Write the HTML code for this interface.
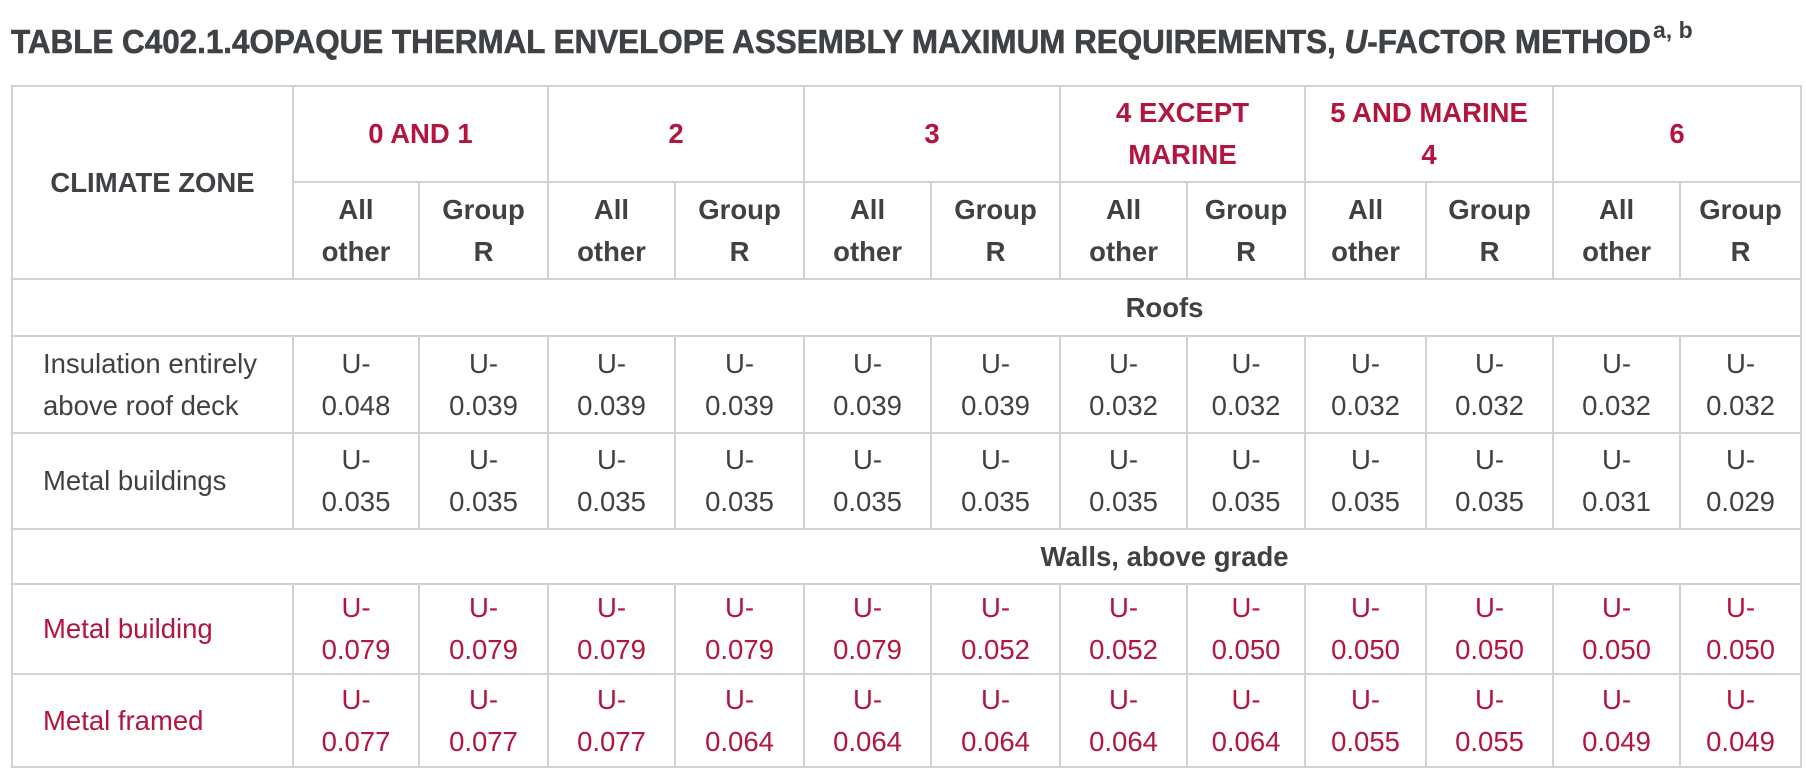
<!DOCTYPE html>
<html><head><meta charset="utf-8"><style>
html,body{margin:0;padding:0;background:#fff;width:1806px;height:778px;overflow:hidden}
svg.t{position:absolute;left:0;top:0}
table{position:absolute;left:11px;top:85px;border-collapse:collapse;table-layout:fixed;width:1789px;font-family:"Liberation Sans",Arial,sans-serif;font-size:27.5px;line-height:42px;color:#3f4245}
td{border:2px solid #d2d2d2;text-align:center;vertical-align:middle;padding:0;white-space:nowrap}
.h{font-weight:bold}
.r{color:#b3153f}
.l{text-align:left;padding-left:30px}
.sec{font-weight:bold;text-align:center;padding-left:516px}
</style></head><body>
<svg class="t" width="1806" height="80"><text x="11" y="53" font-family="Liberation Sans, Arial, sans-serif" font-weight="bold" font-size="33" fill="#3f4245" stroke="#3f4245" stroke-width="0.6" textLength="1640" lengthAdjust="spacingAndGlyphs">TABLE C402.1.4OPAQUE THERMAL ENVELOPE ASSEMBLY MAXIMUM REQUIREMENTS, <tspan font-style="italic">U</tspan>-FACTOR METHOD</text><text x="1653" y="38" font-family="Liberation Sans, Arial, sans-serif" font-weight="bold" font-size="23" fill="#3f4245">a, b</text></svg>
<table>
<colgroup><col style="width:281px"><col style="width:126px"><col style="width:129px"><col style="width:127px"><col style="width:129px"><col style="width:127px"><col style="width:129px"><col style="width:127px"><col style="width:118px"><col style="width:121px"><col style="width:127px"><col style="width:127px"><col style="width:121px"></colgroup>
<tr style="height:96px"><td rowspan="2" class="h">CLIMATE ZONE</td><td colspan="2" class="h r">0 AND 1</td><td colspan="2" class="h r">2</td><td colspan="2" class="h r">3</td><td colspan="2" class="h r">4 EXCEPT<br>MARINE</td><td colspan="2" class="h r">5 AND MARINE<br>4</td><td colspan="2" class="h r">6</td></tr>
<tr style="height:97px"><td class="h">All<br>other</td><td class="h">Group<br>R</td><td class="h">All<br>other</td><td class="h">Group<br>R</td><td class="h">All<br>other</td><td class="h">Group<br>R</td><td class="h">All<br>other</td><td class="h">Group<br>R</td><td class="h">All<br>other</td><td class="h">Group<br>R</td><td class="h">All<br>other</td><td class="h">Group<br>R</td></tr>
<tr style="height:57px"><td colspan="13" class="sec">Roofs</td></tr>
<tr style="height:97px"><td class="l">Insulation entirely<br>above roof deck</td><td>U-<br>0.048</td><td>U-<br>0.039</td><td>U-<br>0.039</td><td>U-<br>0.039</td><td>U-<br>0.039</td><td>U-<br>0.039</td><td>U-<br>0.032</td><td>U-<br>0.032</td><td>U-<br>0.032</td><td>U-<br>0.032</td><td>U-<br>0.032</td><td>U-<br>0.032</td></tr>
<tr style="height:96px"><td class="l">Metal buildings</td><td>U-<br>0.035</td><td>U-<br>0.035</td><td>U-<br>0.035</td><td>U-<br>0.035</td><td>U-<br>0.035</td><td>U-<br>0.035</td><td>U-<br>0.035</td><td>U-<br>0.035</td><td>U-<br>0.035</td><td>U-<br>0.035</td><td>U-<br>0.031</td><td>U-<br>0.029</td></tr>
<tr style="height:55px"><td colspan="13" class="sec">Walls, above grade</td></tr>
<tr class="r" style="height:90px"><td class="l">Metal building</td><td>U-<br>0.079</td><td>U-<br>0.079</td><td>U-<br>0.079</td><td>U-<br>0.079</td><td>U-<br>0.079</td><td>U-<br>0.052</td><td>U-<br>0.052</td><td>U-<br>0.050</td><td>U-<br>0.050</td><td>U-<br>0.050</td><td>U-<br>0.050</td><td>U-<br>0.050</td></tr>
<tr class="r" style="height:93px"><td class="l">Metal framed</td><td>U-<br>0.077</td><td>U-<br>0.077</td><td>U-<br>0.077</td><td>U-<br>0.064</td><td>U-<br>0.064</td><td>U-<br>0.064</td><td>U-<br>0.064</td><td>U-<br>0.064</td><td>U-<br>0.055</td><td>U-<br>0.055</td><td>U-<br>0.049</td><td>U-<br>0.049</td></tr>
</table>
</body></html>
